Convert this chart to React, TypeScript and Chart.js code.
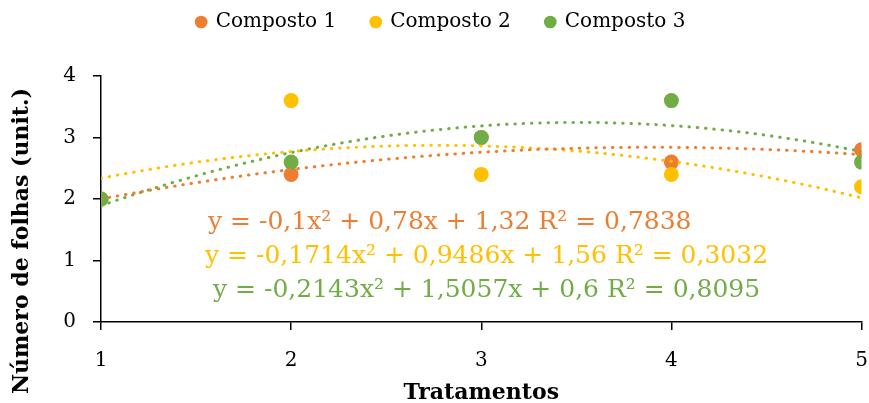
import React, { useEffect, useRef } from 'react';
import { Chart, registerables } from 'chart.js';

Chart.register(...registerables);

const seriesNames = ['Composto 1', 'Composto 2', 'Composto 3'];
const tratamentos = [1, 2, 3, 4, 5];
const composto1 = [2, 2.4, 3.0, 2.6, 2.8];
const composto2 = [2, 3.6, 2.4, 2.4, 2.2];
const composto3 = [2, 2.6, 3.0, 3.6, 2.6];
const coefA = [-0.1, -0.1714, -0.2143];
const coefB = [0.78, 0.9486, 1.5057];
const coefC = [1.32, 1.56, 0.6];
const r2 = [0.7838, 0.3032, 0.8095];
const colors = ['#ED7D31', '#FFC000', '#70AD47'];
const xTitle = 'Tratamentos';
const yTitle = 'Número de folhas (unit.)';

const FONT = "'DejaVu Serif', Georgia, serif";

const fmt = (v: number) => String(v).replace('.', ',');

const equationText = (i: number) =>
  `y = ${fmt(coefA[i])}x² + ${fmt(coefB[i])}x + ${fmt(coefC[i])} R² = ${fmt(r2[i])}`;

const trendPoints = (i: number) => {
  const pts: { x: number; y: number }[] = [];
  const x0 = tratamentos[0];
  const x1 = tratamentos[tratamentos.length - 1];
  const steps = 80;
  for (let k = 0; k <= steps; k++) {
    const x = x0 + ((x1 - x0) * k) / steps;
    pts.push({ x, y: coefA[i] * x * x + coefB[i] * x + coefC[i] });
  }
  return pts;
};

const legendSpacer = {
  id: 'legendSpacer',
  beforeInit(chart: any) {
    const legend = chart.legend;
    if (!legend) return;
    const origFit = legend.fit;
    legend.fit = function () {
      origFit.call(this);
      this.height += 34;
    };
    const origDraw = legend.draw;
    legend.draw = function () {
      const ctx = this.ctx;
      ctx.save();
      ctx.translate(10, 0);
      origDraw.call(this);
      ctx.restore();
    };
  },
};

const overlayPlugin = {
  id: 'overlay',
  afterDatasetsDraw(chart: any) {
    const ctx = chart.ctx;
    ctx.save();
    const eqPos = [
      { x: 208, y: 222 },
      { x: 205, y: 256 },
      { x: 213, y: 290 },
    ];
    ctx.font = `25px ${FONT}`;
    ctx.textBaseline = 'middle';
    ctx.textAlign = 'left';
    for (let i = 0; i < 3; i++) {
      ctx.fillStyle = colors[i];
      ctx.fillText(equationText(i), eqPos[i].x, eqPos[i].y);
    }
    ctx.translate(22, 241);
    ctx.rotate(-Math.PI / 2);
    ctx.textAlign = 'center';
    ctx.fillStyle = '#000';
    ctx.font = `bold 22px ${FONT}`;
    ctx.fillText(yTitle, 0, 0);
    ctx.restore();
  },
};

export default function App() {
  const ref = useRef<HTMLCanvasElement>(null);

  useEffect(() => {
    if (!ref.current) return;
    const seriesData = [composto1, composto2, composto3];
    const pointSets = seriesData.map((vals, i) => ({
      label: seriesNames[i],
      data: tratamentos.map((x, j) => ({ x, y: vals[j] })),
      backgroundColor: colors[i],
      borderColor: colors[i],
      pointRadius: 7.5,
      pointBorderWidth: 0,
      pointStyle: 'circle',
      showLine: false,
      order: 3 - i + 1,
    }));
    const trendSets = seriesData.map((_, i) => ({
      label: 'trend' + i,
      data: trendPoints(i),
      borderColor: colors[i],
      backgroundColor: colors[i],
      borderWidth: 3,
      borderDash: [0.5, 7.8],
      borderCapStyle: 'round',
      pointRadius: 0,
      showLine: true,
      tension: 0,
      order: 0,
    }));
    const chart = new Chart(ref.current, {
      type: 'scatter',
      data: { datasets: [...pointSets, ...trendSets] as any },
      plugins: [legendSpacer, overlayPlugin],
      options: {
        animation: false,
        responsive: true,
        maintainAspectRatio: false,
        layout: { padding: { top: -23, right: 7, left: 0, bottom: 0 } },
        plugins: {
          tooltip: { enabled: false },
          legend: {
            position: 'top',
            labels: {
              usePointStyle: true,
              boxWidth: 9,
              boxHeight: 9,
              padding: 35,
              color: '#000',
              font: { family: FONT, size: 20 },
              filter: (item: any) => item.datasetIndex < 3,
              sort: (a: any, b: any) => a.datasetIndex - b.datasetIndex,
            },
          },
        },
        scales: {
          x: {
            type: 'linear',
            min: 1,
            max: 5,
            ticks: { stepSize: 1, color: '#000', padding: 19, font: { family: FONT, size: 20 } },
            grid: { drawOnChartArea: false, drawTicks: true, tickLength: 8, color: '#000', lineWidth: 1.5 },
            border: { display: true, color: '#000', width: 1.5 },
            title: {
              display: true,
              text: xTitle,
              color: '#000',
              font: { family: FONT, size: 22, weight: 'bold' },
              padding: { top: 0, bottom: -3 },
            },
            afterFit: (s: any) => {
              s.height = 81;
              s.paddingLeft = 0;
              s.paddingRight = 0;
            },
          },
          y: {
            type: 'linear',
            min: 0,
            max: 4,
            ticks: { stepSize: 1, color: '#000', padding: 17, font: { family: FONT, size: 20 } },
            grid: { drawOnChartArea: false, drawTicks: true, tickLength: 8, color: '#000', lineWidth: 1.5 },
            border: { display: true, color: '#000', width: 1.5 },
            afterFit: (s: any) => {
              s.width = 101;
              s.paddingTop = 0;
              s.paddingBottom = 0;
            },
          },
        },
      } as any,
    });
    return () => chart.destroy();
  }, []);

  return (
    <div style={{ position: 'absolute', left: 0, top: 0, width: 869, height: 403, background: '#fff' }}>
      <canvas ref={ref} />
    </div>
  );
}
